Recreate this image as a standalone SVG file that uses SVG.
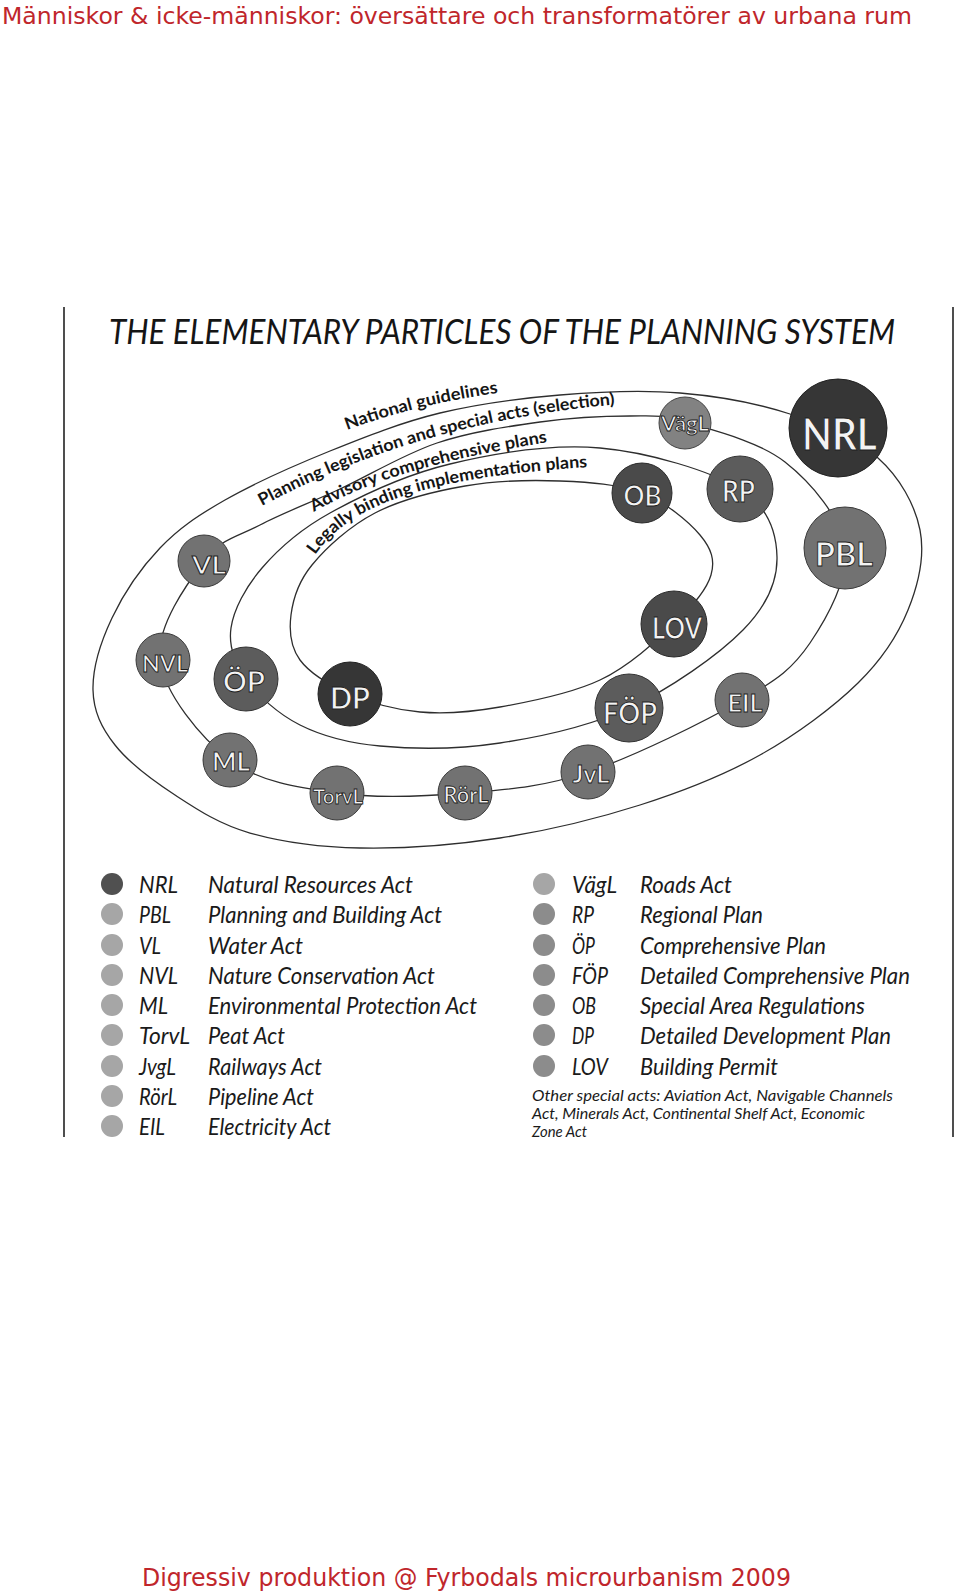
<svg xmlns="http://www.w3.org/2000/svg" width="960" height="1594" viewBox="0 0 960 1594">
<style>
  .ring{fill:none;stroke:#2e2e2e;stroke-width:1.3}
  .frame{stroke:#222;stroke-width:1.6}
  .red{font-family:"DejaVu Sans",sans-serif;fill:#c0262b}
  .lbl{font-family:Lato,"Open Sans",sans-serif;font-weight:700;font-size:17px;fill:#151515}
  .nt{font-family:Lato,"Open Sans",sans-serif;font-weight:700;fill:#f3f3f3;stroke:#1e1e1e;stroke-width:0.9;text-anchor:middle}
  .n1{fill:#363636;stroke:#222;stroke-width:1}
  .n2{fill:#4a4a4a;stroke:#2a2a2a;stroke-width:1}
  .n3{fill:#5c5c5c;stroke:#333;stroke-width:1}
  .n4{fill:#727272;stroke:#3a3a3a;stroke-width:1}
  .n5{fill:#828282;stroke:#444;stroke-width:1}
  .leg{font-family:Lato,"Open Sans",sans-serif;font-style:italic;font-size:24px;fill:#1a1a1a}
  .foot{font-family:Lato,"Open Sans",sans-serif;font-style:italic;font-size:16px;fill:#1a1a1a}
  .d1{fill:#505050}
  .d2{fill:#a6a6a6}
  .d3{fill:#8c8c8c}
</style>
<defs>
  <path id="lp1" d="M 347,430 Q 420,403 505,392"/>
  <path id="lp2" d="M 262,506 C 330,470 440,420 620,404"/>
  <path id="lp3" d="M 314,512 C 362,484 432,460 556,441"/>
  <path id="lp4" d="M 315,555 C 351,503 431,475 608,466"/>
</defs>
<rect width="960" height="1594" fill="#ffffff"/>

<text class="red" x="2" y="24" font-size="22.5" textLength="910" lengthAdjust="spacingAndGlyphs">Människor &amp; icke-människor: översättare och transformatörer av urbana rum</text>

<g id="frame">
  <line class="frame" x1="64" y1="307" x2="64" y2="1137"/>
  <line class="frame" x1="953" y1="307" x2="953" y2="1137"/>
</g>

<text x="109" y="344" font-family="Lato, 'Open Sans', sans-serif" font-style="italic" font-size="34" fill="#151515" textLength="786" lengthAdjust="spacingAndGlyphs">THE ELEMENTARY PARTICLES OF THE PLANNING SYSTEM</text>

<g id="connectors">
  <path id="ring-national" class="ring" d="M 93,690 C 92.5,668.8 100.8,641.7 112,618 C 123.2,594.3 141.2,567.7 160,548 C 178.8,528.3 196.7,516.2 225,500 C 253.3,483.8 294.2,465.5 330,451 C 365.8,436.5 401.7,422.3 440,413 C 478.3,403.7 520,398.3 560,395 C 600,391.7 641.7,389.8 680,393 C 718.3,396.2 757,403.2 790,414 C 823,424.8 856.3,438.7 878,458 C 899.7,477.3 915,504.7 920,530 C 925,555.3 918.3,584.5 908,610 C 897.7,635.5 882.7,658.8 858,683 C 833.3,707.2 796.3,734.7 760,755 C 723.7,775.3 683.3,791.2 640,805 C 596.7,818.8 546.7,830.8 500,838 C 453.3,845.2 401.7,848.8 360,848 C 318.3,847.2 280.8,841.8 250,833 C 219.2,824.2 197.5,809.7 175,795 C 152.5,780.3 128.7,762.5 115,745 C 101.3,727.5 93.5,711.2 93,690 Z"/>
  <path id="ring-legislation" class="ring" d="M 160,660 C 155.7,626.8 187.3,583.5 204,561 C 220.7,538.5 237.3,537 260,525 C 282.7,513 310.5,502.7 340,489 C 369.5,475.3 403.7,454.2 437,443 C 470.3,431.8 507.8,426.5 540,422 C 572.2,417.5 605.8,416 630,416 C 654.2,416 659.2,414.3 685,422 C 710.8,429.7 758.3,441 785,462 C 811.7,483 840.8,517.8 845,548 C 849.2,578.2 827.2,617.7 810,643 C 792.8,668.3 779,678.5 742,700 C 705,721.5 634.2,756.5 588,772 C 541.8,787.5 506.8,789.5 465,793 C 423.2,796.5 376.2,798.5 337,793 C 297.8,787.5 259.5,782.2 230,760 C 200.5,737.8 164.3,693.2 160,660 Z"/>
  <path id="ring-advisory" class="ring" d="M 246,679 C 234.5,662.8 228.3,646.5 231,628 C 233.7,609.5 245.5,587.2 262,568 C 278.5,548.8 298.7,530.3 330,513 C 361.3,495.7 405,474.8 450,464 C 495,453.2 551.7,443.8 600,448 C 648.3,452.2 710.5,470.8 740,489 C 769.5,507.2 776.5,533.5 777,557 C 777.5,580.5 767.7,604.8 743,630 C 718.3,655.2 669.5,689.2 629,708 C 588.5,726.8 541.5,736.7 500,743 C 458.5,749.3 413.3,749 380,746 C 346.7,743 322.3,736.2 300,725 C 277.7,713.8 257.5,695.2 246,679 Z"/>
  <path id="ring-binding" class="ring" d="M 350,694 C 330,685.3 309.8,673.2 300,660 C 290.2,646.8 289,630.8 291,615 C 293,599.2 298,582 312,565 C 326,548 349.5,526.2 375,513 C 400.5,499.8 434.2,491.3 465,486 C 495.8,480.7 530.5,479.8 560,481 C 589.5,482.2 618.7,484 642,493 C 665.3,502 688.5,521.3 700,535 C 711.5,548.7 715.3,560.2 711,575 C 706.7,589.8 692.5,606.5 674,624 C 655.5,641.5 629,666.2 600,680 C 571,693.8 530,701.7 500,707 C 470,712.3 445,714.2 420,712 C 395,709.8 370,702.7 350,694 Z"/>
</g>

<g id="ring-labels">
  <text class="lbl"><textPath href="#lp1" textLength="156" lengthAdjust="spacingAndGlyphs">National guidelines</textPath></text>
  <text class="lbl"><textPath href="#lp2" textLength="370" lengthAdjust="spacingAndGlyphs">Planning legislation and special acts (selection)</textPath></text>
  <text class="lbl"><textPath href="#lp3" textLength="245" lengthAdjust="spacingAndGlyphs">Advisory comprehensive plans</textPath></text>
  <text class="lbl"><textPath href="#lp4" textLength="295" lengthAdjust="spacingAndGlyphs">Legally binding implementation plans</textPath></text>
</g>

<g id="node-NRL"><circle class="n1" cx="838" cy="428" r="49"/><text class="nt" x="839.5" y="450" font-size="44" textLength="75" lengthAdjust="spacingAndGlyphs">NRL</text></g>
<g id="node-VagL"><circle class="n5" cx="685" cy="423" r="26"/><text class="nt" x="685" y="431" font-size="21" stroke-width="0.6" textLength="48" lengthAdjust="spacingAndGlyphs">VägL</text></g>
<g id="node-RP"><circle class="n3" cx="740" cy="489" r="33"/><text class="nt" x="738.5" y="502" font-size="30" textLength="33" lengthAdjust="spacingAndGlyphs">RP</text></g>
<g id="node-OB"><circle class="n2" cx="642" cy="493" r="30"/><text class="nt" x="642.5" y="506" font-size="29" textLength="38" lengthAdjust="spacingAndGlyphs">OB</text></g>
<g id="node-PBL"><circle class="n4" cx="845" cy="548" r="41"/><text class="nt" x="844" y="566" font-size="33" textLength="58" lengthAdjust="spacingAndGlyphs">PBL</text></g>
<g id="node-LOV"><circle class="n2" cx="674" cy="624" r="33"/><text class="nt" x="677" y="639" font-size="31" textLength="50" lengthAdjust="spacingAndGlyphs">LOV</text></g>
<g id="node-FOP"><circle class="n3" cx="629" cy="708" r="34"/><text class="nt" x="630" y="724" font-size="30" textLength="54" lengthAdjust="spacingAndGlyphs">FÖP</text></g>
<g id="node-EIL"><circle class="n4" cx="742" cy="700" r="27"/><text class="nt" x="745" y="712" font-size="25" stroke-width="0.7" textLength="35" lengthAdjust="spacingAndGlyphs">EIL</text></g>
<g id="node-JvL"><circle class="n4" cx="588" cy="772" r="27"/><text class="nt" x="591" y="783" font-size="25" stroke-width="0.7" textLength="37" lengthAdjust="spacingAndGlyphs">JvL</text></g>
<g id="node-RorL"><circle class="n4" cx="465" cy="793" r="27"/><text class="nt" x="466" y="803" font-size="22" stroke-width="0.6" textLength="45" lengthAdjust="spacingAndGlyphs">RörL</text></g>
<g id="node-TorvL"><circle class="n4" cx="337" cy="793" r="27"/><text class="nt" x="338" y="804" font-size="21" stroke-width="0.6" textLength="50" lengthAdjust="spacingAndGlyphs">TorvL</text></g>
<g id="node-ML"><circle class="n4" cx="230" cy="760" r="27"/><text class="nt" x="231" y="771" font-size="27" stroke-width="0.7" textLength="38" lengthAdjust="spacingAndGlyphs">ML</text></g>
<g id="node-NVL"><circle class="n4" cx="163" cy="660" r="27"/><text class="nt" x="165" y="672" font-size="22" stroke-width="0.6" textLength="46" lengthAdjust="spacingAndGlyphs">NVL</text></g>
<g id="node-VL"><circle class="n4" cx="204" cy="561" r="26"/><text class="nt" x="209" y="574" font-size="24" stroke-width="0.7" textLength="34" lengthAdjust="spacingAndGlyphs">VL</text></g>
<g id="node-OP"><circle class="n3" cx="246" cy="679" r="32"/><text class="nt" x="244" y="692" font-size="28" textLength="42" lengthAdjust="spacingAndGlyphs">ÖP</text></g>
<g id="node-DP"><circle class="n1" cx="350" cy="694" r="32"/><text class="nt" x="350" y="709" font-size="31" textLength="40" lengthAdjust="spacingAndGlyphs">DP</text></g>

<g id="legend-left">
  <g><circle class="d1" cx="112" cy="884" r="11"/><text class="leg" x="139" y="893" textLength="39" lengthAdjust="spacingAndGlyphs">NRL</text><text class="leg" x="208" y="893" textLength="205" lengthAdjust="spacingAndGlyphs">Natural Resources Act</text></g>
  <g><circle class="d2" cx="112" cy="914" r="11"/><text class="leg" x="139" y="923" textLength="32" lengthAdjust="spacingAndGlyphs">PBL</text><text class="leg" x="208" y="923" textLength="234" lengthAdjust="spacingAndGlyphs">Planning and Building Act</text></g>
  <g><circle class="d2" cx="112" cy="945" r="11"/><text class="leg" x="139" y="954" textLength="22" lengthAdjust="spacingAndGlyphs">VL</text><text class="leg" x="208" y="954" textLength="95" lengthAdjust="spacingAndGlyphs">Water Act</text></g>
  <g><circle class="d2" cx="112" cy="975" r="11"/><text class="leg" x="139" y="984" textLength="39" lengthAdjust="spacingAndGlyphs">NVL</text><text class="leg" x="208" y="984" textLength="227" lengthAdjust="spacingAndGlyphs">Nature Conservation Act</text></g>
  <g><circle class="d2" cx="112" cy="1005" r="11"/><text class="leg" x="139" y="1014" textLength="29" lengthAdjust="spacingAndGlyphs">ML</text><text class="leg" x="208" y="1014" textLength="269" lengthAdjust="spacingAndGlyphs">Environmental Protection Act</text></g>
  <g><circle class="d2" cx="112" cy="1035" r="11"/><text class="leg" x="139" y="1044" textLength="51" lengthAdjust="spacingAndGlyphs">TorvL</text><text class="leg" x="208" y="1044" textLength="77" lengthAdjust="spacingAndGlyphs">Peat Act</text></g>
  <g><circle class="d2" cx="112" cy="1066" r="11"/><text class="leg" x="139" y="1075" textLength="37" lengthAdjust="spacingAndGlyphs">JvgL</text><text class="leg" x="208" y="1075" textLength="114" lengthAdjust="spacingAndGlyphs">Railways Act</text></g>
  <g><circle class="d2" cx="112" cy="1096" r="11"/><text class="leg" x="139" y="1105" textLength="38" lengthAdjust="spacingAndGlyphs">RörL</text><text class="leg" x="208" y="1105" textLength="106" lengthAdjust="spacingAndGlyphs">Pipeline Act</text></g>
  <g><circle class="d2" cx="112" cy="1126" r="11"/><text class="leg" x="139" y="1135" textLength="26" lengthAdjust="spacingAndGlyphs">EIL</text><text class="leg" x="208" y="1135" textLength="123" lengthAdjust="spacingAndGlyphs">Electricity Act</text></g>
</g>

<g id="legend-right">
  <g><circle class="d2" cx="544" cy="884" r="11"/><text class="leg" x="572" y="893" textLength="45" lengthAdjust="spacingAndGlyphs">VägL</text><text class="leg" x="640" y="893" textLength="92" lengthAdjust="spacingAndGlyphs">Roads Act</text></g>
  <g><circle class="d3" cx="544" cy="914" r="11"/><text class="leg" x="572" y="923" textLength="22" lengthAdjust="spacingAndGlyphs">RP</text><text class="leg" x="640" y="923" textLength="123" lengthAdjust="spacingAndGlyphs">Regional Plan</text></g>
  <g><circle class="d3" cx="544" cy="945" r="11"/><text class="leg" x="572" y="954" textLength="23" lengthAdjust="spacingAndGlyphs">ÖP</text><text class="leg" x="640" y="954" textLength="186" lengthAdjust="spacingAndGlyphs">Comprehensive Plan</text></g>
  <g><circle class="d3" cx="544" cy="975" r="11"/><text class="leg" x="572" y="984" textLength="36" lengthAdjust="spacingAndGlyphs">FÖP</text><text class="leg" x="640" y="984" textLength="270" lengthAdjust="spacingAndGlyphs">Detailed Comprehensive Plan</text></g>
  <g><circle class="d3" cx="544" cy="1005" r="11"/><text class="leg" x="572" y="1014" textLength="24" lengthAdjust="spacingAndGlyphs">OB</text><text class="leg" x="640" y="1014" textLength="225" lengthAdjust="spacingAndGlyphs">Special Area Regulations</text></g>
  <g><circle class="d3" cx="544" cy="1035" r="11"/><text class="leg" x="572" y="1044" textLength="22" lengthAdjust="spacingAndGlyphs">DP</text><text class="leg" x="640" y="1044" textLength="251" lengthAdjust="spacingAndGlyphs">Detailed Development Plan</text></g>
  <g><circle class="d3" cx="544" cy="1066" r="11"/><text class="leg" x="572" y="1075" textLength="36" lengthAdjust="spacingAndGlyphs">LOV</text><text class="leg" x="640" y="1075" textLength="138" lengthAdjust="spacingAndGlyphs">Building Permit</text></g>
  <text class="foot" x="532" y="1101" textLength="361" lengthAdjust="spacingAndGlyphs">Other special acts: Aviation Act, Navigable Channels</text>
  <text class="foot" x="532" y="1119" textLength="333" lengthAdjust="spacingAndGlyphs">Act, Minerals Act, Continental Shelf Act, Economic</text>
  <text class="foot" x="532" y="1137" textLength="55" lengthAdjust="spacingAndGlyphs">Zone Act</text>
</g>

<text class="red" x="142" y="1586" font-size="24" textLength="649" lengthAdjust="spacingAndGlyphs">Digressiv produktion @ Fyrbodals microurbanism 2009</text>
</svg>
